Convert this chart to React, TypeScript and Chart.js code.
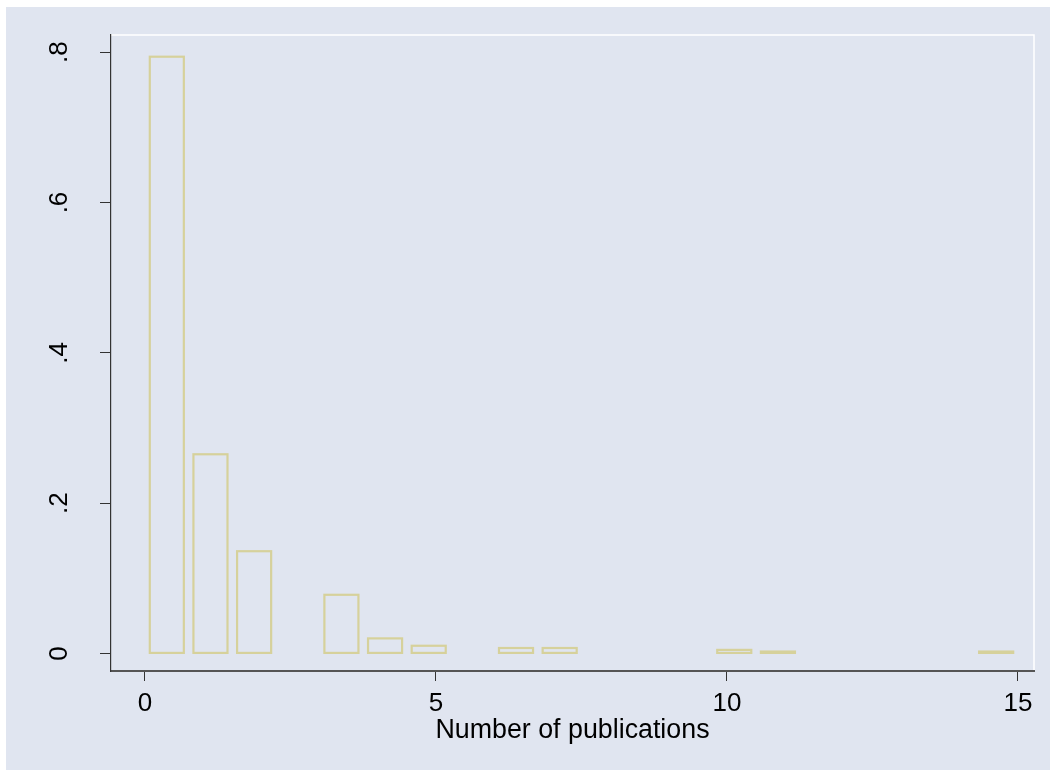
import React, { useEffect, useRef } from "react";
import { Chart, registerables, BarController, BarElement } from "chart.js";

Chart.register(...registerables);

// Bar element that strokes its outline centred on the bar edges (Stata-style histogram bars)
class HistBar extends (BarElement as any) {
  static id = "histBar";
  static defaults = { ...(BarElement as any).defaults };
  static defaultRoutes = (BarElement as any).defaultRoutes;
  draw(ctx: CanvasRenderingContext2D) {
    const { x, y, base, width } = (this as any).getProps(["x", "y", "base", "width"]);
    const o = (this as any).options;
    const top = Math.min(y, base);
    const h = Math.abs(base - y);
    ctx.save();
    ctx.strokeStyle = o.borderColor;
    ctx.lineWidth = o.borderWidth;
    ctx.lineJoin = "miter";
    ctx.strokeRect(x - width / 2, top, width, h);
    ctx.restore();
  }
}

class HistogramController extends (BarController as any) {
  static id = "histogram";
  static defaults = { ...(BarController as any).defaults, dataElementType: "histBar" };
  static overrides = (BarController as any).overrides;
}

Chart.register(HistBar as any, HistogramController as any);

// Histogram of number of publications (density, bin width 0.75)
const binCenters = [0.375, 1.125, 1.875, 3.375, 4.125, 4.875, 6.375, 7.125, 10.125, 10.875, 14.625];
const densities = [0.794, 0.265, 0.136, 0.078, 0.02, 0.0102, 0.0072, 0.0072, 0.0047, 0.0025, 0.0025];
const xTicks = [0, 5, 10, 15];
const yTicks = [0, 0.2, 0.4, 0.6, 0.8];
const yTickLabels = ["0", ".2", ".4", ".6", ".8"];
const xTitle = "Number of publications";

const BG = "#E0E5F0";
const BAR = "#D6D19B";
const TICK_FONT = '26px "Liberation Sans", Arial, sans-serif';
const TITLE_FONT = '26.8px "Liberation Sans", Arial, sans-serif';

const W = 1050;
const H = 770;

export default function App() {
  const ref = useRef<HTMLCanvasElement | null>(null);

  useEffect(() => {
    document.body.style.margin = "0";
    document.body.style.overflow = "hidden";
    const canvas = ref.current;
    if (!canvas) return;

    const stataPlugin = {
      id: "stataLook",
      beforeDraw(chart: any) {
        const { ctx, chartArea } = chart;
        ctx.save();
        ctx.fillStyle = "#FFFFFF";
        ctx.fillRect(0, 0, chart.width, chart.height);
        ctx.fillStyle = BG;
        ctx.fillRect(6, 7, chart.width - 6, chart.height - 7);
        ctx.strokeStyle = "#FFFFFF";
        ctx.lineWidth = 1.5;
        ctx.beginPath();
        ctx.moveTo(chartArea.left, chartArea.top);
        ctx.lineTo(chartArea.right, chartArea.top);
        ctx.lineTo(chartArea.right, chartArea.bottom);
        ctx.stroke();
        ctx.restore();
      },
      afterDraw(chart: any) {
        const { ctx, chartArea } = chart;
        const xs = chart.scales.x;
        const ys = chart.scales.y;
        ctx.save();
        ctx.fillStyle = "#000000";
        ctx.textBaseline = "alphabetic";
        ctx.textAlign = "center";
        ctx.font = TICK_FONT;
        xTicks.forEach((v) => {
          ctx.fillText(String(v), xs.getPixelForValue(v), 711);
        });
        yTicks.forEach((v, i) => {
          ctx.save();
          ctx.translate(66.5, ys.getPixelForValue(v));
          ctx.rotate(-Math.PI / 2);
          ctx.fillText(yTickLabels[i], 0, 0);
          ctx.restore();
        });
        ctx.font = TITLE_FONT;
        ctx.fillText(xTitle, (chartArea.left + chartArea.right) / 2, 737.5);
        ctx.restore();
      },
    };

    const chart = new Chart(canvas, {
      type: "histogram" as any,
      data: {
        datasets: [
          {
            data: binCenters.map((x, i) => ({ x, y: densities[i] })),
            backgroundColor: "rgba(0,0,0,0)",
            borderColor: BAR,
            borderWidth: 2.2,
            borderSkipped: false,
            barPercentage: 0.78,
            categoryPercentage: 1,
          } as any,
        ],
      },
      options: {
        responsive: false,
        animation: false,
        devicePixelRatio: 1,
        layout: { padding: { left: 0, top: 35, right: 16, bottom: 0 } },
        plugins: {
          legend: { display: false },
          tooltip: { enabled: false },
          title: { display: false },
        },
        scales: {
          x: {
            type: "linear",
            offset: false,
            min: -0.584,
            max: 15.275,
            afterBuildTicks: (scale: any) => {
              scale.ticks = xTicks.map((value) => ({ value }));
            },
            afterFit: (scale: any) => {
              scale.height = 99;
            },
            ticks: { display: false },
            grid: {
              display: true,
              offset: false,
              drawOnChartArea: false,
              drawTicks: true,
              tickLength: 10,
              color: "#333333",
              lineWidth: 1,
            },
            border: { display: true, color: "#555555", width: 2 },
          },
          y: {
            type: "linear",
            min: -0.0234,
            max: 0.8229,
            afterBuildTicks: (scale: any) => {
              scale.ticks = yTicks.map((value) => ({ value }));
            },
            afterFit: (scale: any) => {
              scale.width = 111;
            },
            ticks: { display: false },
            grid: {
              display: true,
              drawOnChartArea: false,
              drawTicks: true,
              tickLength: 11,
              color: "#333333",
              lineWidth: 1,
            },
            border: { display: true, color: "#333333", width: 1.2 },
          },
        },
      } as any,
      plugins: [stataPlugin],
    });

    return () => {
      chart.destroy();
    };
  }, []);

  return (
    <div style={{ width: W, height: H }}>
      <canvas ref={ref} width={W} height={H} style={{ display: "block", width: W, height: H }} />
    </div>
  );
}
